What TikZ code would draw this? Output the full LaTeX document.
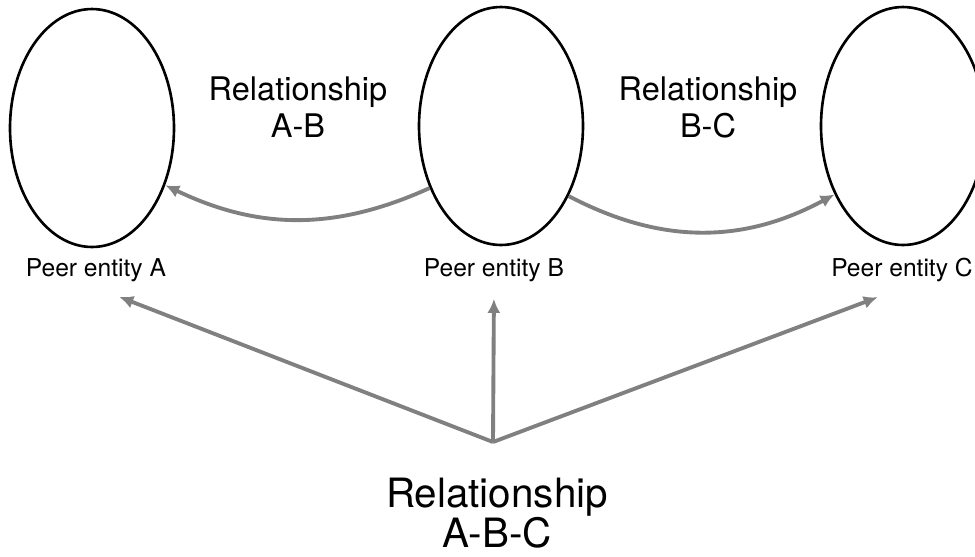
\documentclass[tikz,border=0pt]{standalone}
\usepackage{fontspec}
\setmainfont{TeX Gyre Heros}
\usetikzlibrary{shapes.geometric,arrows.meta}
\begin{document}
\begin{tikzpicture}[x=0.02cm, y=-0.02cm,
        entity/.style={draw, ellipse, line width=1.5pt, minimum width=3.28cm, minimum height=4.76cm, inner sep=0pt},
        peer/.style={font=\fontsize{14}{16}\selectfont},
        rel/.style={line width=2.2pt, black!50, -{Latex[length=2.8mm,width=2.6mm]}},
        rellabel/.style={align=center, font=\fontsize{18.5}{21}\selectfont}]
        \useasboundingbox (0,0) rectangle (975,556);
        \clip (0,0) rectangle (975,556);
        \node[entity] (A) at (92,128) {};
        \node[entity] (B) at (501,126) {};
        \node[entity] (C) at (903,126) {};
        \node[peer] (pA) at (96,270) {Peer entity A};
        \node[peer] (pB) at (494,270) {Peer entity B};
        \node[peer] (pC) at (902,270) {Peer entity C};
        \node[rellabel] (rAB) at (298,107) {Relationship\\A-B};
        \node[rellabel] (rBC) at (708,107) {Relationship\\B-C};
        \node[align=center, font=\fontsize{23}{21.5}\selectfont] (rABC) at (497,513) {Relationship\\A-B-C};
        \draw[rel] (B.221) to[bend left=25] (A.-38);
        \draw[rel] (B.-46) to[bend right=28] (C.225);
        \coordinate (apex) at (493,442);
        \draw[rel, shorten >=0.5cm] (apex) -- (pA.south);
        \draw[rel, shorten >=0.22cm] (apex) -- (pB.south);
        \draw[rel, shorten >=0.52cm] (apex) -- (pC.south);
    \end{tikzpicture}
\end{document}
